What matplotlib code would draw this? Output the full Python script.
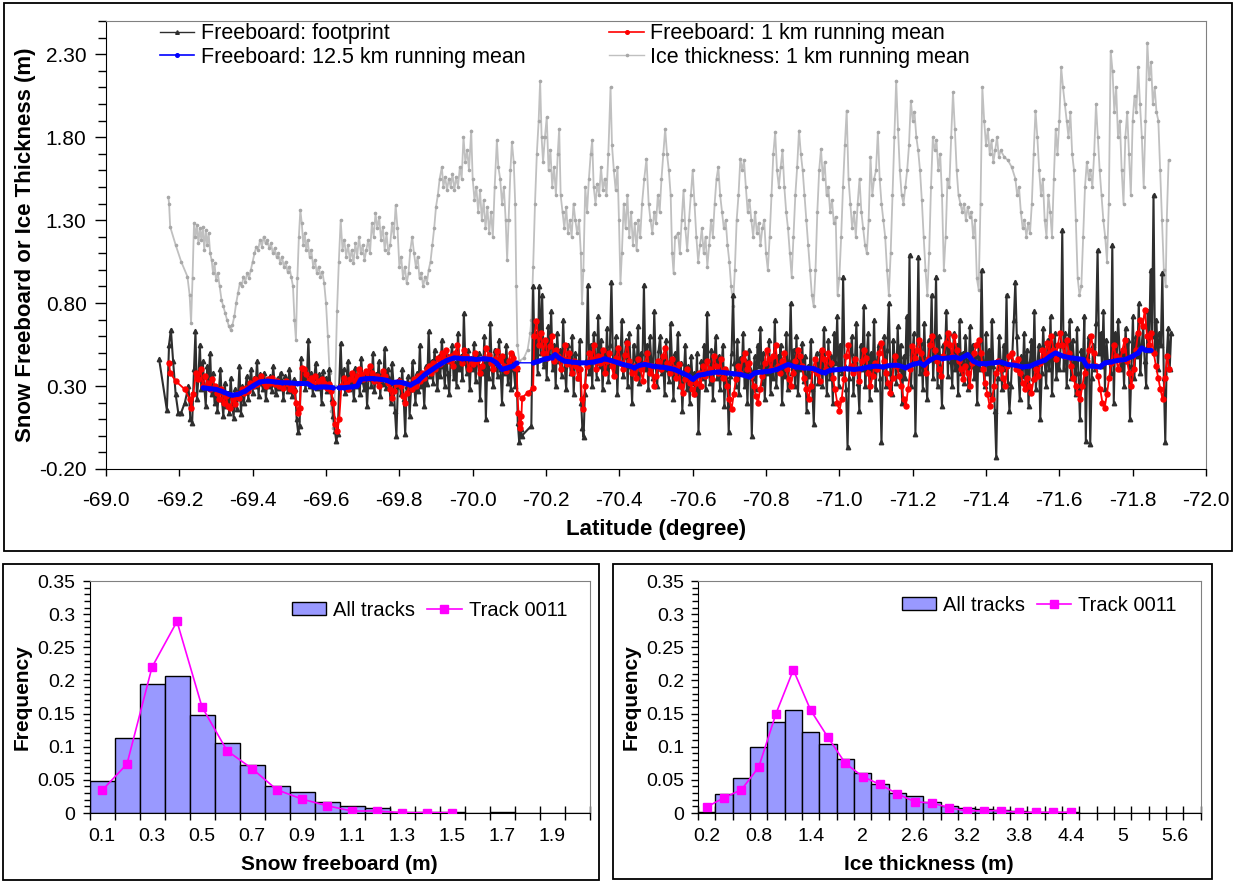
import numpy as np
import matplotlib
matplotlib.use("Agg")
import matplotlib.pyplot as plt
from matplotlib.patches import Rectangle, Patch
from matplotlib.lines import Line2D
from matplotlib.ticker import MultipleLocator, FixedLocator, FixedFormatter

plt.rcParams['font.family'] = ['Liberation Sans', 'DejaVu Sans']

# ------------------------------------------------------------------ data
# Freeboard: footprint (segments: (lat_start, lat_end) evenly spaced, or explicit lats)
fp_a_lat = [-69.145, -69.166, -69.172, -69.177, -69.183, -69.190, -69.197, -69.205,
            -69.215, -69.225, -69.230, -69.235]
fp_a_val = [0.46, 0.155, 0.55, 0.64, 0.45, 0.25, 0.14, 0.14, 0.20, 0.30, 0.10, 0.08]
fp_b1 = [0.40, 0.63, 0.22, 0.35, 0.55, 0.28, 0.45, 0.30, 0.18, 0.42, 0.33, 0.50, 0.25, 0.38, 0.20]
fp_b2 = [0.30, 0.15, 0.28, 0.40, 0.22, 0.12, 0.32, 0.18, 0.26, 0.14, 0.35, 0.20, 0.11, 0.28,
         0.16, 0.24, 0.42, 0.13, 0.30, 0.20]
fp_b3 = [0.28, 0.36, 0.22, 0.33, 0.40, 0.26, 0.35, 0.30, 0.45, 0.24, 0.37, 0.32, 0.28, 0.38,
         0.22, 0.34, 0.30, 0.36, 0.27, 0.42, 0.31, 0.25, 0.35, 0.29, 0.38, 0.33, 0.22, 0.36,
         0.30, 0.27, 0.40, 0.31, 0.24, 0.34, 0.28]
fp_b4 = [0.10, 0.02, 0.06, 0.47]
fp_b5 = [0.33, 0.40, 0.28, 0.36, 0.58, 0.30, 0.38, 0.25, 0.35, 0.44, 0.29, 0.37, 0.32, 0.20,
         0.39, 0.30, 0.35, 0.27, 0.40, 0.31, 0.22]
fp_b6 = [0.12, 0.03, -0.03, 0.01, 0.30]
fp_b7 = [0.56, 0.30, 0.40, 0.26, 0.35, 0.45, 0.28, 0.38, 0.32, 0.22, 0.41, 0.30, 0.36, 0.25,
         0.47, 0.33, 0.28, 0.39, 0.18, 0.35, 0.42, 0.30, 0.50, 0.27, 0.37, 0.33, 0.45, 0.24,
         0.38, 0.31, 0.53, 0.29, 0.40, 0.35, 0.20, 0.44, 0.32, 0.15, 0.00, 0.30]
fp_b8 = [0.34, 0.25, 0.40, 0.22, 0.01, 0.30, 0.36, 0.12, 0.28, 0.45, 0.32, 0.20, 0.38, 0.27,
         0.55, 0.30, 0.35, 0.18, 0.42, 0.31, 0.63, 0.36]
fp_b9 = [0.45, 0.32, 0.52, 0.40, 0.28, 0.48, 0.36, 0.58, 0.42, 0.30, 0.50, 0.38, 0.25, 0.46,
         0.55, 0.35, 0.44, 0.30, 0.62, 0.40, 0.48, 0.34, 0.74, 0.45, 0.38, 0.52, 0.28, 0.47,
         0.40, 0.56, 0.33, 0.44, 0.50, 0.22, 0.42, 0.38, 0.60, 0.10, 0.45, 0.35, 0.68, 0.41,
         0.30, 0.52, 0.44, 0.36, 0.58, 0.40, 0.20, 0.48, 0.38, 0.55, 0.32, 0.45, 0.28, 0.50,
         0.40, 0.30]
fp_c_lat = [-70.120, -70.123, -70.127, -70.131, -70.134, -70.160]
fp_c_val = [0.40, 0.08, -0.04, 0.04, 0.00, 0.06]
fp_d1 = [0.90, 0.45, 0.62, 0.38, 0.90, 0.50, 0.85, 0.42, 0.58, 0.35, 0.66, 0.48, 0.75, 0.40,
         0.55, 0.30, 0.62, 0.45, 0.52, 0.36, 0.70, 0.42, 0.28, 0.55, 0.48, 0.38, 0.60, 0.25,
         0.50, 0.44, 0.35, 0.58, 0.20]
fp_d2 = [0.05, -0.01, 0.25]
fp_d3 = [0.45, 0.91, 0.38, 0.55, 0.30, 0.62, 0.48, 0.35, 0.72, 0.42, 0.58, 0.28, 0.50, 0.40,
         0.65, 0.33, 0.55, 0.93, 0.45, 0.38, 0.60, 0.25, 0.52, 0.44, 0.70, 0.36, 0.48, 0.58,
         0.30, 0.62, 0.42, 0.20, 0.55, 0.47, 0.38, 0.66, 0.32, 0.50, 0.43, 0.91, 0.40, 0.55,
         0.28, 0.60, 0.45, 0.35, 0.75, 0.42, 0.30, 0.52, 0.60, 0.38, 0.46, 0.25, 0.58, 0.40,
         0.33, 0.68, 0.45, 0.22, 0.50, 0.38, 0.62, 0.30, 0.44, 0.15, 0.36, 0.55, 0.28, 0.42,
         0.20, 0.48, 0.32]
fp_d4 = [0.38, 0.25, 0.50, 0.02, 0.30, 0.45, 0.35, 0.55, 0.28, 0.74, 0.40, 0.32, 0.52, 0.22,
         0.45, 0.60, 0.35, 0.48, 0.28, 0.42, 0.55, 0.18, 0.40, 0.33, 0.02, 0.36, 0.50, 0.85,
         0.44, 0.30, 0.58, 0.25, 0.47, 0.38, 0.62, 0.30, 0.45, 0.20, 0.52, 0.40, 0.00, 0.35,
         0.48, 0.28, 0.55, 0.42, 0.65, 0.32, 0.50, 0.22, 0.44, 0.38, 0.58, 0.26, 0.46, 0.35,
         0.70, 0.30, 0.48, 0.40, 0.55, 0.20, 0.42, 0.36, 0.62, 0.28, 0.45, 0.80, 0.38, 0.52,
         0.30, 0.60, 0.25, 0.46, 0.40, 0.56, 0.33, 0.48, 0.15, 0.42, 0.36, 0.58, 0.28, 0.07,
         0.40, 0.50, 0.32, 0.45]
fp_d5 = [0.52, 0.30, 0.65, 0.40, 0.25, 0.58, 0.35, 0.48, 0.20, 0.62, 0.44, 0.72, 0.30, 0.55,
         0.38, 0.96, 0.42, 0.28, -0.07, 0.35, 0.50, 0.60, 0.25, 0.45, 0.68, 0.32, 0.15, 0.55,
         0.40, 0.78, 0.30, 0.48, 0.62, 0.22, 0.50, 0.38, 0.70, 0.28, 0.45, 0.55, 0.35, -0.04,
         0.42, 0.60, 0.30, 0.52, 0.80, 0.38, 0.25, 0.58, 0.46, 0.32, 0.66, 0.40, 0.55, 0.20,
         0.48, 0.35, 0.72, 0.42, 1.09, 0.30, 0.50, 0.62, 0.01, 0.45, 1.08, 0.38, 0.56, 0.28,
         0.68, 0.40, 0.22, 0.58, 0.46, 0.85, 0.35, 0.52, 0.96, 0.30, 0.60, 0.42, 0.18, 0.55,
         0.48, 0.75, 0.36, 0.62]
fp_d6 = [0.45, 0.30, 0.62, 0.40, 0.55, 0.25, 0.70, 0.38, 0.50, 0.32, 0.60, 0.45, 0.28, 0.66,
         0.42, 0.55, 0.35, 0.48, 0.20, 0.58, 0.40, 1.00, 0.45, 0.30, 0.62, 0.38, 0.52, 0.25,
         0.70, 0.42, 0.15, -0.13, 0.35, 0.60, 0.45, 0.28, 0.55, 0.40, 0.85, 0.32, 0.15, 0.30,
         0.50, 0.70, 0.93, 0.60, 0.40, 0.22, 0.48, 0.36, 0.62, 0.30, 0.52, 0.18, 0.45, 0.58,
         0.35, 0.75, 0.28, 0.42, 0.55, 0.10, 0.38, 0.65, 0.45, 0.30, 0.58, 0.40, 0.72, 0.25,
         0.50, 0.62, 0.35, 0.48, 0.40]
fp_d7 = [0.55, 1.24, 0.40, 0.62, 0.30, 0.50, 0.70, 0.35, 0.58, 0.45, 0.25, 0.65, 0.38, 0.10,
         0.52, 0.42, 0.72, -0.03, 0.48, 0.60, -0.05, 0.35, 0.55, 0.40, 0.68, 1.12, 0.50, 0.62,
         0.42, 0.75, 0.28, 0.58, 0.45, 0.45, 0.38, 1.15, 0.20, 0.62, 0.48, 0.70, 0.50, 0.40,
         0.52, 0.30, 0.65, 0.45, 0.58, 0.10, 0.42, 0.72, 0.35, 0.60, 0.48, 0.80, 0.38, 0.55,
         0.66, 0.45, 0.30, 0.75, 0.52, 1.00, 0.60, 1.45, 0.50, 0.70, 0.40, 0.62, 0.55, 0.98,
         0.35, -0.04, 0.48, 0.65, 0.40, 0.62]

# Freeboard: 1 km running mean
rm_a_lat = [-69.172, -69.175, -69.190, -69.215, -69.228, -69.233, -69.238]
rm_a_val = [0.44, 0.38, 0.33, 0.28, 0.22, 0.17, 0.25]
rm_b1 = [0.38, 0.34, 0.40, 0.30, 0.36, 0.32, 0.28, 0.34, 0.30]
rm_b2 = [0.26, 0.22, 0.28, 0.20, 0.24, 0.18, 0.17, 0.22, 0.19, 0.25, 0.23, 0.28, 0.26]
rm_b3 = [0.29, 0.27, 0.32, 0.30, 0.34, 0.31, 0.33, 0.36, 0.32, 0.30, 0.34, 0.32, 0.35, 0.31,
         0.33, 0.30, 0.32, 0.29, 0.33, 0.31, 0.28, 0.30, 0.27]
rm_b4 = [0.20, 0.14, 0.17, 0.41]
rm_b5 = [0.40, 0.37, 0.33, 0.35, 0.31, 0.36, 0.33, 0.30, 0.34, 0.32, 0.29, 0.31, 0.27]
rm_b6 = [0.20, 0.07, 0.03, 0.10]
rm_b7 = [0.30, 0.35, 0.32, 0.28, 0.34, 0.38, 0.33, 0.36, 0.40, 0.37, 0.34, 0.39, 0.35, 0.42,
         0.38, 0.33, 0.36, 0.30, 0.34, 0.39, 0.36, 0.32, 0.28, 0.23, 0.27, 0.31, 0.33]
rm_b8 = [0.30, 0.24, 0.20, 0.26, 0.31, 0.28, 0.34, 0.30, 0.36, 0.33, 0.38, 0.35, 0.40, 0.42, 0.38]
rm_b9 = [0.44, 0.40, 0.47, 0.43, 0.50, 0.46, 0.52, 0.45, 0.48, 0.42, 0.50, 0.55, 0.47, 0.44,
         0.52, 0.48, 0.40, 0.46, 0.43, 0.50, 0.45, 0.38, 0.42, 0.47, 0.53, 0.49, 0.44, 0.40,
         0.46, 0.51, 0.45, 0.48, 0.42, 0.39, 0.45, 0.50, 0.47, 0.41]
rm_c_lat = [-70.120, -70.122, -70.125, -70.128, -70.130, -70.133, -70.135, -70.150, -70.165]
rm_c_val = [0.41, 0.25, 0.14, 0.08, 0.05, 0.12, 0.23, 0.26, 0.29]
rm_d1 = [0.60, 0.69, 0.55, 0.62, 0.50, 0.58, 0.47, 0.54, 0.60, 0.45, 0.52, 0.48, 0.40, 0.46,
         0.55, 0.43, 0.50, 0.38, 0.45, 0.42, 0.35, 0.40]
rm_d2 = [0.22, 0.16, 0.30]
rm_d3 = [0.42, 0.50, 0.46, 0.55, 0.40, 0.48, 0.44, 0.52, 0.38, 0.45, 0.50, 0.42, 0.36, 0.47,
         0.53, 0.44, 0.40, 0.49, 0.56, 0.45, 0.38, 0.42, 0.35, 0.46, 0.40, 0.33, 0.44, 0.50,
         0.38, 0.42, 0.30, 0.36, 0.45, 0.40, 0.48, 0.53, 0.44, 0.38, 0.46, 0.41, 0.35, 0.43,
         0.30, 0.26, 0.34, 0.40, 0.32, 0.28]
rm_d4 = [0.25, 0.32, 0.38, 0.30, 0.42, 0.36, 0.45, 0.40, 0.34, 0.48, 0.42, 0.38, 0.46, 0.35,
         0.40, 0.30, 0.22, 0.16, 0.25, 0.34, 0.42, 0.38, 0.46, 0.50, 0.40, 0.44, 0.36, 0.30,
         0.24, 0.20, 0.28, 0.36, 0.44, 0.52, 0.46, 0.40, 0.48, 0.55, 0.42, 0.38, 0.45, 0.50,
         0.40, 0.34, 0.30, 0.38, 0.45, 0.52, 0.48, 0.42, 0.35, 0.28, 0.22, 0.30, 0.40, 0.46,
         0.38, 0.33]
rm_d5 = [0.52, 0.46, 0.40, 0.50, 0.44, 0.35, 0.28, 0.20, 0.15, 0.22, 0.34, 0.48, 0.55, 0.42,
         0.38, 0.46, 0.40, 0.33, 0.45, 0.52, 0.47, 0.38, 0.30, 0.36, 0.44, 0.40, 0.50, 0.56,
         0.45, 0.38, 0.32, 0.26, 0.35, 0.48, 0.42, 0.36, 0.30, 0.22, 0.18, 0.28, 0.40, 0.54,
         0.47, 0.52, 0.58, 0.50, 0.44, 0.38, 0.46, 0.55, 0.60, 0.52, 0.45, 0.40, 0.36, 0.48,
         0.56, 0.62]
rm_d6 = [0.55, 0.48, 0.60, 0.52, 0.45, 0.40, 0.34, 0.42, 0.38, 0.30, 0.44, 0.50, 0.55, 0.58,
         0.50, 0.40, 0.32, 0.25, 0.18, 0.22, 0.30, 0.38, 0.45, 0.40, 0.35, 0.30, 0.42, 0.48,
         0.50, 0.44, 0.40, 0.46, 0.38, 0.32, 0.28, 0.35, 0.30, 0.26, 0.34, 0.40, 0.36, 0.44,
         0.52, 0.48, 0.56, 0.50, 0.60, 0.52, 0.46, 0.55]
rm_d7 = [0.62, 0.55, 0.48, 0.58, 0.50, 0.42, 0.35, 0.30, 0.26, 0.22, 0.30, 0.38, 0.45, 0.52,
         0.60, 0.50, 0.42, 0.36, 0.28, 0.20, 0.17, 0.25, 0.35, 0.44, 0.55, 0.48, 0.40, 0.46,
         0.52, 0.58, 0.45, 0.38, 0.30, 0.40, 0.52, 0.62, 0.70, 0.66, 0.76, 0.60, 0.55, 0.62,
         0.50, 0.42, 0.35, 0.28, 0.22, 0.35, 0.48, 0.40]

# Freeboard: 12.5 km running mean (three sections separated by data gaps)
bl1_lat = [-69.265, -69.28, -69.30, -69.32, -69.335, -69.345, -69.36, -69.38, -69.40, -69.42,
           -69.44, -69.46, -69.48, -69.50, -69.52, -69.55, -69.56, -69.57, -69.585, -69.60, -69.62]
bl1_val = [0.29, 0.285, 0.28, 0.265, 0.25, 0.245, 0.25, 0.27, 0.30, 0.325,
           0.33, 0.325, 0.32, 0.32, 0.315, 0.315, 0.30, 0.29, 0.295, 0.295, 0.29]
bl2_lat = [-69.635, -69.65, -69.67, -69.685, -69.695, -69.71, -69.73, -69.75, -69.765, -69.78,
           -69.795, -69.81, -69.83, -69.85, -69.87, -69.89, -69.91, -69.93, -69.95, -69.97,
           -69.99, -70.01, -70.03, -70.05, -70.065, -70.08, -70.095, -70.11, -70.12]
bl2_val = [0.29, 0.29, 0.295, 0.30, 0.34, 0.345, 0.345, 0.34, 0.335, 0.32,
           0.325, 0.32, 0.305, 0.33, 0.37, 0.40, 0.43, 0.455, 0.47, 0.465,
           0.465, 0.46, 0.465, 0.46, 0.44, 0.40, 0.41, 0.42, 0.44]
bl3_lat = [-70.165, -70.18, -70.20, -70.215, -70.225, -70.235, -70.25, -70.27, -70.29, -70.31,
           -70.33, -70.35, -70.36, -70.375, -70.39, -70.41, -70.43, -70.44, -70.455, -70.47,
           -70.49, -70.51, -70.53, -70.55, -70.57, -70.59, -70.60, -70.615, -70.63, -70.65,
           -70.67, -70.69, -70.71, -70.73, -70.755, -70.77, -70.79, -70.81, -70.83, -70.86,
           -70.88, -70.90, -70.93, -70.95, -70.96, -70.975, -71.00, -71.02, -71.04, -71.06,
           -71.08, -71.10, -71.12, -71.14, -71.16, -71.18, -71.20, -71.22, -71.23, -71.25,
           -71.265, -71.28, -71.30, -71.315, -71.33, -71.35, -71.365, -71.38, -71.40, -71.42,
           -71.44, -71.46, -71.48, -71.50, -71.52, -71.54, -71.56, -71.575, -71.59, -71.61,
           -71.63, -71.65, -71.665, -71.675, -71.69, -71.71, -71.725, -71.74, -71.76, -71.78,
           -71.80, -71.815, -71.825, -71.835, -71.85]
bl3_val = [0.44, 0.45, 0.465, 0.47, 0.49, 0.47, 0.45, 0.445, 0.44, 0.44,
           0.445, 0.455, 0.465, 0.455, 0.445, 0.43, 0.42, 0.41, 0.425, 0.43,
           0.42, 0.415, 0.41, 0.40, 0.38, 0.36, 0.34, 0.365, 0.37, 0.38,
           0.385, 0.38, 0.375, 0.37, 0.355, 0.38, 0.385, 0.39, 0.40, 0.43,
           0.415, 0.41, 0.405, 0.385, 0.38, 0.395, 0.40, 0.405, 0.40, 0.405,
           0.415, 0.42, 0.415, 0.425, 0.425, 0.41, 0.43, 0.44, 0.425, 0.46,
           0.475, 0.465, 0.47, 0.475, 0.465, 0.49, 0.45, 0.435, 0.435, 0.44,
           0.445, 0.43, 0.425, 0.415, 0.42, 0.44, 0.455, 0.48, 0.50, 0.48,
           0.47, 0.465, 0.46, 0.42, 0.42, 0.415, 0.44, 0.445, 0.455, 0.46,
           0.48, 0.50, 0.53, 0.515, 0.515]

# Ice thickness: 1 km running mean
ice_lat_1 = [-69.170, -69.172, -69.175, -69.190, -69.205, -69.222, -69.228, -69.232, -69.236, -69.240,
             -69.244, -69.248, -69.252, -69.256, -69.260, -69.264, -69.268, -69.272, -69.276, -69.280,
             -69.284, -69.288, -69.292, -69.296, -69.300, -69.305, -69.310, -69.315, -69.320, -69.325,
             -69.330, -69.335, -69.340, -69.345, -69.350, -69.355, -69.360, -69.365, -69.370, -69.375,
             -69.380, -69.385, -69.390, -69.395, -69.400, -69.405, -69.410, -69.415, -69.420, -69.425,
             -69.430, -69.435, -69.440, -69.445, -69.450, -69.455, -69.460, -69.465, -69.470, -69.475,
             -69.480, -69.485, -69.490, -69.495, -69.500, -69.505, -69.510, -69.514, -69.518, -69.522,
             -69.526, -69.530, -69.534, -69.538, -69.542, -69.546, -69.550, -69.555, -69.560, -69.565,
             -69.570, -69.575, -69.580, -69.585, -69.590, -69.595, -69.600, -69.605, -69.610, -69.615,
             -69.620, -69.625, -69.630, -69.635, -69.640, -69.645, -69.650, -69.655, -69.660, -69.665,
             -69.670, -69.675, -69.680, -69.685, -69.690, -69.695, -69.700, -69.705, -69.710, -69.715,
             -69.720, -69.725, -69.730, -69.735, -69.740, -69.745, -69.750, -69.755, -69.760, -69.765,
             -69.770, -69.775, -69.780, -69.785, -69.790, -69.795, -69.800, -69.805, -69.810, -69.815,
             -69.820, -69.825, -69.830, -69.835, -69.840, -69.845, -69.850, -69.855, -69.860, -69.865,
             -69.870, -69.875]
ice_val_1 = [1.44, 1.40, 1.26, 1.15, 1.05, 0.96, 0.85, 0.68, 0.95, 1.28,
             1.20, 1.27, 1.16, 1.25, 1.18, 1.26, 1.12, 1.24, 1.15, 1.22,
             1.10, 1.06, 0.98, 1.04, 0.94, 0.98, 0.90, 0.82, 0.78, 0.74,
             0.70, 0.66, 0.64, 0.67, 0.72, 0.80, 0.86, 0.92, 0.90, 0.96,
             0.93, 0.98, 0.95, 1.00, 1.05, 1.10, 1.14, 1.12, 1.18, 1.14,
             1.20, 1.16, 1.18, 1.13, 1.16, 1.10, 1.13, 1.08, 1.10, 1.04,
             1.08, 1.02, 1.05, 0.99, 1.02, 0.96, 0.90, 0.70, 0.58, 0.95,
             1.20, 1.36, 1.28, 1.15, 1.22, 1.12, 1.18, 1.08, 1.12, 1.02,
             1.06, 0.98, 1.02, 0.96, 0.99, 0.92, 0.80, 0.60, 0.38, 0.15,
             0.05, 0.30, 0.75, 1.05, 1.30, 1.12, 1.18, 1.08, 1.15, 1.06,
             1.12, 1.04, 1.16, 1.08, 1.20, 1.10, 1.15, 1.06, 1.12, 1.18,
             1.10, 1.28, 1.20, 1.34, 1.25, 1.32, 1.18, 1.26, 1.12, 1.22,
             1.10, 1.15, 1.28, 1.20, 1.39, 1.25, 1.02, 1.08, 0.95, 1.02,
             0.92, 0.98, 1.12, 1.20, 1.10, 1.02, 1.08, 0.95, 0.98, 0.90,
             0.96, 0.92]
ice_lat_2 = [-69.880, -69.885, -69.890, -69.895, -69.900, -69.905, -69.910, -69.916, -69.920, -69.925,
             -69.930, -69.935, -69.940, -69.945, -69.950, -69.955, -69.960, -69.965, -69.970, -69.975,
             -69.980, -69.985, -69.990, -69.996, -70.000, -70.005, -70.010, -70.015, -70.020, -70.025,
             -70.030, -70.035, -70.040, -70.045, -70.050, -70.055, -70.060, -70.066, -70.070, -70.075,
             -70.080, -70.085, -70.090, -70.094, -70.098, -70.103, -70.107, -70.112, -70.116, -70.119,
             -70.122, -70.127, -70.140, -70.150, -70.157, -70.160, -70.165, -70.170, -70.175, -70.180,
             -70.184, -70.188, -70.192, -70.197, -70.202, -70.207, -70.212, -70.217, -70.222, -70.227,
             -70.232, -70.236, -70.240, -70.245, -70.250, -70.255, -70.260, -70.265, -70.270, -70.275,
             -70.280, -70.285, -70.290, -70.295, -70.298, -70.302, -70.307, -70.312, -70.317, -70.322,
             -70.326, -70.330, -70.335, -70.340, -70.345, -70.350, -70.355, -70.360, -70.365, -70.370,
             -70.376, -70.380, -70.385, -70.390, -70.395, -70.399, -70.403, -70.407, -70.412, -70.417,
             -70.422, -70.427, -70.432, -70.437, -70.442, -70.447, -70.452, -70.457, -70.462, -70.468,
             -70.474, -70.480, -70.485, -70.490, -70.495, -70.500, -70.505, -70.510, -70.515, -70.520,
             -70.525, -70.530, -70.535, -70.540, -70.544, -70.548, -70.552]
ice_val_2 = [1.00, 1.05, 1.15, 1.25, 1.38, 1.45, 1.55, 1.62, 1.50, 1.56,
             1.48, 1.55, 1.50, 1.58, 1.48, 1.56, 1.50, 1.62, 1.55, 1.80,
             1.65, 1.72, 1.60, 1.84, 1.55, 1.42, 1.50, 1.35, 1.48, 1.30,
             1.42, 1.25, 1.38, 1.22, 1.35, 1.20, 1.50, 1.78, 1.62, 1.55,
             1.40, 1.50, 1.30, 1.06, 1.30, 1.60, 1.77, 1.65, 1.40, 0.90,
             0.55, 0.45, 0.47, 0.52, 0.62, 0.70, 1.02, 1.40, 1.70, 1.90,
             2.14, 1.80, 1.65, 1.80, 1.92, 1.60, 1.72, 1.50, 1.62, 1.45,
             1.70, 1.85, 1.45, 1.35, 1.25, 1.38, 1.22, 1.30, 1.20, 1.40,
             1.30, 1.22, 1.30, 1.10, 0.80, 1.00, 1.50, 1.35, 1.55, 1.70,
             1.78, 1.50, 1.40, 1.52, 1.45, 1.62, 1.48, 1.55, 1.45, 1.70,
             2.10, 1.75, 1.60, 1.48, 1.62, 1.30, 0.92, 1.10, 1.40, 1.25,
             1.45, 1.20, 1.35, 1.15, 1.28, 1.12, 1.30, 1.20, 1.40, 1.55,
             1.67, 1.40, 1.30, 1.22, 1.35, 1.28, 1.45, 1.35, 1.55, 1.70,
             1.85, 1.70, 1.60, 1.45, 1.10, 0.98, 1.20]
ice_lat_3 = [-70.560, -70.565, -70.570, -70.575, -70.580, -70.585, -70.590, -70.595, -70.600, -70.605,
             -70.610, -70.615, -70.620, -70.625, -70.630, -70.635, -70.640, -70.645, -70.650, -70.655,
             -70.660, -70.665, -70.670, -70.675, -70.680, -70.685, -70.690, -70.695, -70.700, -70.705,
             -70.710, -70.715, -70.720, -70.725, -70.730, -70.735, -70.740, -70.745, -70.750, -70.755,
             -70.760, -70.765, -70.770, -70.775, -70.780, -70.785, -70.790, -70.795, -70.800, -70.805,
             -70.810, -70.815, -70.820, -70.825, -70.830, -70.835, -70.840, -70.845, -70.850, -70.855,
             -70.860, -70.865, -70.870, -70.875, -70.880, -70.885, -70.890, -70.895, -70.900, -70.905,
             -70.910, -70.915, -70.920, -70.925, -70.930, -70.935, -70.940, -70.945, -70.950, -70.955,
             -70.960, -70.965, -70.970, -70.975, -70.980, -70.985, -70.990, -70.995, -71.000, -71.005,
             -71.010, -71.015, -71.020, -71.025, -71.030, -71.035, -71.040, -71.045, -71.050, -71.055,
             -71.060, -71.065, -71.070, -71.075, -71.080, -71.085, -71.090, -71.095, -71.100, -71.105,
             -71.110, -71.115, -71.120, -71.125, -71.130, -71.135, -71.140, -71.145, -71.150, -71.155,
             -71.160, -71.165, -71.170, -71.175, -71.180, -71.185, -71.190, -71.195, -71.200, -71.205,
             -71.210, -71.215, -71.220, -71.225, -71.230, -71.235, -71.240, -71.245, -71.250, -71.255,
             -71.260, -71.265, -71.270, -71.275, -71.280, -71.285, -71.290, -71.295, -71.300, -71.305]
ice_val_3 = [1.22, 1.10, 1.30, 1.48, 1.25, 1.12, 1.30, 1.45, 1.60, 1.40,
             1.20, 1.05, 1.15, 1.25, 1.10, 1.20, 1.02, 1.15, 1.30, 1.20,
             1.40, 1.55, 1.62, 1.45, 1.35, 1.25, 1.30, 1.15, 1.05, 0.90,
             0.78, 1.00, 1.30, 1.45, 1.67, 1.60, 1.66, 1.50, 1.35, 1.42,
             1.30, 1.20, 1.35, 1.22, 1.28, 1.15, 1.25, 1.30, 1.10, 1.00,
             1.20, 1.45, 1.70, 1.83, 1.60, 1.50, 1.62, 1.72, 1.50, 1.35,
             1.25, 1.10, 0.96, 1.20, 1.45, 1.62, 1.84, 1.70, 1.60, 1.45,
             1.30, 1.15, 1.00, 0.85, 0.78, 1.00, 1.35, 1.60, 1.73, 1.55,
             1.65, 1.45, 1.50, 1.35, 1.42, 1.28, 1.32, 0.85, 0.95, 1.20,
             1.50, 1.75, 1.96, 1.55, 1.40, 1.25, 1.35, 1.20, 1.40, 1.55,
             1.35, 1.25, 1.15, 1.10, 1.30, 1.68, 1.45, 1.55, 1.60, 1.83,
             1.55, 1.40, 1.30, 1.20, 1.00, 0.85, 1.10, 1.45, 1.80, 2.14,
             1.85, 1.60, 1.45, 1.40, 1.50, 1.60, 1.75, 2.02, 1.90, 1.95,
             1.80, 1.72, 1.60, 1.42, 1.20, 1.00, 0.85, 1.10, 1.50, 1.80,
             1.72, 1.78, 1.60, 1.70, 1.45, 1.00, 1.20, 1.55, 1.50, 1.80]
ice_lat_4 = [-71.310, -71.315, -71.320, -71.325, -71.330, -71.335, -71.340, -71.345, -71.350, -71.355,
             -71.360, -71.365, -71.370, -71.375, -71.380, -71.385, -71.390, -71.395, -71.400, -71.405,
             -71.410, -71.415, -71.420, -71.425, -71.430, -71.435, -71.440, -71.450, -71.460, -71.470,
             -71.480, -71.485, -71.490, -71.495, -71.500, -71.505, -71.510, -71.515, -71.520, -71.525,
             -71.530, -71.535, -71.540, -71.545, -71.550, -71.555, -71.560, -71.565, -71.570, -71.575,
             -71.580, -71.585, -71.590, -71.595, -71.600, -71.605, -71.610, -71.615, -71.620, -71.625,
             -71.630, -71.635, -71.640, -71.645, -71.650, -71.655, -71.660, -71.665, -71.670, -71.675,
             -71.680, -71.685, -71.690, -71.695, -71.700, -71.705, -71.710, -71.715, -71.720, -71.725,
             -71.730, -71.735, -71.740, -71.745, -71.750, -71.755, -71.760, -71.765, -71.770, -71.775,
             -71.780, -71.785, -71.790, -71.795, -71.800, -71.805, -71.810, -71.815, -71.820, -71.825,
             -71.830, -71.835, -71.840, -71.845, -71.850, -71.855, -71.860, -71.865, -71.870, -71.875,
             -71.880, -71.885, -71.890, -71.893, -71.898]
ice_val_4 = [2.07, 1.85, 1.60, 1.45, 1.40, 1.35, 1.40, 1.30, 1.38, 1.32,
             1.35, 1.20, 1.30, 0.95, 0.88, 1.40, 2.10, 1.90, 1.75, 1.85,
             1.70, 1.78, 1.65, 1.72, 1.80, 1.68, 1.72, 1.68, 1.66, 1.62,
             1.55, 1.45, 1.50, 1.35, 1.25, 1.30, 1.20, 1.28, 1.22, 1.40,
             1.70, 1.96, 1.80, 1.60, 1.45, 1.55, 1.30, 1.20, 1.45, 1.35,
             1.20, 1.55, 1.85, 1.70, 1.90, 2.22, 2.10, 2.00, 1.90, 1.80,
             1.95, 1.70, 1.60, 1.30, 0.95, 0.85, 0.90, 1.20, 1.50, 1.65,
             1.55, 1.60, 1.50, 1.70, 2.00, 1.80, 1.60, 1.45, 1.30, 1.20,
             1.05, 1.40, 2.32, 2.20, 1.95, 2.10, 1.80, 1.90, 1.60, 1.40,
             1.80, 1.95, 1.70, 1.45, 1.90, 2.05, 1.95, 2.22, 2.00, 1.80,
             1.50, 1.90, 2.37, 2.15, 2.25, 2.00, 2.10, 1.95, 1.90, 1.60,
             1.30, 1.00, 0.90, 1.30, 1.66]

# Histograms
sf_bins = [0.1, 0.2, 0.3, 0.4, 0.5, 0.6, 0.7, 0.8, 0.9, 1.0,
           1.1, 1.2, 1.3, 1.4, 1.5, 1.6, 1.7, 1.8, 1.9, 2.0]
sf_all = [0.048, 0.113, 0.195, 0.207, 0.148, 0.105, 0.072, 0.040, 0.032, 0.016,
          0.010, 0.008, 0.002, 0.002, 0.002, 0.0005, 0.002, 0.0, 0.0, 0.0]
sf_track = [0.034, 0.074, 0.220, 0.289, 0.160, 0.094, 0.067, 0.035, 0.021, 0.011,
            0.003, 0.003, 0.0005, 0.0005, 0.0005]
sf_ticklabels = ['0.1', '0.3', '0.5', '0.7', '0.9', '1.1', '1.3', '1.5', '1.7', '1.9']

it_bins = [0.2, 0.4, 0.6, 0.8, 1.0, 1.2, 1.4, 1.6, 1.8, 2.0, 2.2, 2.4, 2.6, 2.8, 3.0,
           3.2, 3.4, 3.6, 3.8, 4.0, 4.2, 4.4, 4.6, 4.8, 5.0, 5.2, 5.4, 5.6, 5.8]
it_all = [0.002, 0.028, 0.053, 0.099, 0.137, 0.155, 0.122, 0.104, 0.081, 0.060,
          0.044, 0.030, 0.026, 0.016, 0.010, 0.008, 0.006, 0.004, 0.003, 0.002,
          0.0015, 0.001, 0, 0, 0, 0, 0, 0, 0]
it_track = [0.009, 0.023, 0.035, 0.069, 0.150, 0.216, 0.155, 0.114, 0.075, 0.055,
            0.043, 0.029, 0.017, 0.015, 0.008, 0.003, 0.0035, 0.0035, 0.001, 0.001,
            0.001, 0.001]
it_ticklabels = ['0.2', '0.8', '1.4', '2', '2.6', '3.2', '3.8', '4.4', '5', '5.6']

freq_ticklabels = ['0', '0.05', '0.1', '0.15', '0.2', '0.25', '0.3', '0.35']


# ------------------------------------------------------------------ helpers
def build(segments):
    lats, vals = [], []
    for where, v in segments:
        if isinstance(where, tuple):
            lats.extend(np.linspace(where[0], where[1], len(v)))
        else:
            lats.extend(where)
        vals.extend(v)
    return np.array(lats), np.array(vals)


fp_lat, fp_val = build([
    (fp_a_lat, fp_a_val),
    ((-69.240, -69.296), fp_b1), ((-69.300, -69.376), fp_b2), ((-69.380, -69.516), fp_b3),
    ((-69.520, -69.532), fp_b4), ((-69.536, -69.616), fp_b5), ((-69.620, -69.636), fp_b6),
    ((-69.640, -69.796), fp_b7), ((-69.800, -69.884), fp_b8), ((-69.888, -70.116), fp_b9),
    (fp_c_lat, fp_c_val),
    ((-70.165, -70.296), fp_d1), ((-70.299, -70.306), fp_d2), ((-70.310, -70.600), fp_d3),
    ((-70.604, -70.946), fp_d4), ((-70.950, -71.300), fp_d5), ((-71.304, -71.600), fp_d6),
    ((-71.604, -71.905), fp_d7),
])
rm_lat, rm_val = build([
    (rm_a_lat, rm_a_val),
    ((-69.245, -69.296), rm_b1), ((-69.302, -69.376), rm_b2), ((-69.382, -69.514), rm_b3),
    ((-69.518, -69.534), rm_b4), ((-69.540, -69.614), rm_b5), ((-69.620, -69.636), rm_b6),
    ((-69.642, -69.798), rm_b7), ((-69.804, -69.886), rm_b8), ((-69.892, -70.116), rm_b9),
    (rm_c_lat, rm_c_val),
    ((-70.168, -70.294), rm_d1), ((-70.298, -70.306), rm_d2), ((-70.312, -70.598), rm_d3),
    ((-70.604, -70.946), rm_d4), ((-70.952, -71.296), rm_d5), ((-71.302, -71.596), rm_d6),
    ((-71.602, -71.900), rm_d7),
])
ice_lat, ice_val = build([(ice_lat_1, ice_val_1), (ice_lat_2, ice_val_2),
                          (ice_lat_3, ice_val_3), (ice_lat_4, ice_val_4)])
bl_lat, bl_val = build([(bl1_lat, bl1_val), (bl2_lat, bl2_val), (bl3_lat, bl3_val)])

# ------------------------------------------------------------------ figure
W, H = 1234, 882
fig = plt.figure(figsize=(W / 100, H / 100), dpi=100)


def fx(px):
    return px / W


def fy(py):
    return 1 - py / H


# outer frames
for (x0, y0, x1, y1) in [(4, 3, 1232, 551), (3, 564, 599, 880), (613, 564, 1212, 879)]:
    fig.add_artist(Rectangle((fx(x0), fy(y1)), fx(x1 - x0), (y1 - y0) / H,
                             transform=fig.transFigure, fill=False, ec='black', lw=1.3))

BLACK = '#2E2E2E'
GRAY = '#C0C0C0'

ax = fig.add_axes([fx(106), fy(469), fx(1100), 448 / H])
ax.plot(ice_lat, ice_val, color=GRAY, lw=1.3, marker='o', ms=1.6, mfc='#A8A8A8', mec='#A8A8A8',
        zorder=1)
ax.plot(fp_lat, fp_val, color=BLACK, lw=1.5, marker='^', ms=3.2, zorder=2)
ax.plot(rm_lat, rm_val, color='#FF0000', lw=1.3, marker='o', ms=3.6, zorder=3)
ax.plot(bl_lat, bl_val, color='#0000FF', lw=1.0, marker='o', ms=2.0, zorder=4)
for la, va in [(bl1_lat, bl1_val), (bl2_lat, bl2_val), (bl3_lat, bl3_val)]:
    ax.plot(la, va, color='#0000FF', lw=3.6, solid_capstyle='round', zorder=4)

ax.set_xlim(-69.0, -72.0)
ax.set_ylim(-0.2, 2.5)
ax.xaxis.set_major_locator(FixedLocator(np.round(np.arange(-69.0, -72.01, -0.2), 1)))
ax.xaxis.set_major_formatter(FixedFormatter(['%.1f' % v for v in np.arange(-69.0, -72.01, -0.2)]))
ax.yaxis.set_major_locator(FixedLocator([-0.2, 0.3, 0.8, 1.3, 1.8, 2.3]))
ax.yaxis.set_major_formatter(FixedFormatter(['-0.20', '0.30', '0.80', '1.30', '1.80', '2.30']))
ax.yaxis.set_minor_locator(MultipleLocator(0.1))
ax.tick_params(axis='y', which='major', direction='out', length=8, width=1, labelsize=15, pad=6)
ax.tick_params(axis='y', which='minor', direction='out', length=6, width=1)
ax.tick_params(axis='x', which='major', direction='out', length=5, width=1, labelsize=15, pad=11)
for s in ['top', 'right']:
    ax.spines[s].set_color('#808080')
for s in ['left', 'bottom']:
    ax.spines[s].set_color('black')
ax.set_xlabel('Latitude (degree)', fontsize=16, fontweight='bold', labelpad=6)
ax.set_ylabel('Snow Freeboard or Ice Thickness (m)', fontsize=16, fontweight='bold', labelpad=2)

h_fp = Line2D([], [], color=BLACK, lw=1.0, marker='^', ms=2.6)
h_rm = Line2D([], [], color='#FF0000', lw=1.2, marker='o', ms=2.6)
h_bl = Line2D([], [], color='#0000FF', lw=1.2, marker='o', ms=2.6)
h_ice = Line2D([], [], color=GRAY, lw=1.0, marker='o', ms=1.6, mfc='#A8A8A8', mec='#A8A8A8')
ax.legend([h_fp, h_bl, h_rm, h_ice],
          ['Freeboard: footprint', 'Freeboard: 12.5 km running mean',
           'Freeboard: 1 km running mean', 'Ice thickness: 1 km running mean'],
          ncol=2, loc='upper left', bbox_to_anchor=(0.049, 0.995), frameon=False,
          fontsize=15.5, handlelength=1.6, handletextpad=0.3, columnspacing=3.9,
          labelspacing=0.12, borderpad=0, borderaxespad=0)


def histogram(rect, bins, allv, track, ticklabels, step, xlabel, legend_anchor, xlabel_x):
    a = fig.add_axes(rect)
    n = len(bins)
    idx = np.arange(n)
    a.bar(idx, allv, width=1.0, color='#9999FF', edgecolor='black', lw=1.0, zorder=2)
    a.plot(idx[:len(track)], track, color='#FF00FF', lw=1.2, marker='s', ms=5.5, zorder=3)
    a.set_xlim(-0.5, n - 0.5)
    a.set_ylim(0, 0.35)
    a.xaxis.set_major_locator(FixedLocator(np.arange(n + 1) - 0.5))
    a.xaxis.set_major_formatter(FixedFormatter([''] * (n + 1)))
    a.xaxis.set_minor_locator(FixedLocator(idx[::step]))
    a.xaxis.set_minor_formatter(FixedFormatter(ticklabels))
    a.tick_params(axis='x', which='major', direction='inout', length=10, width=1)
    a.tick_params(axis='x', which='minor', length=0, labelsize=14, pad=11)
    a.yaxis.set_major_locator(FixedLocator([0, 0.05, 0.1, 0.15, 0.2, 0.25, 0.3, 0.35]))
    a.yaxis.set_major_formatter(FixedFormatter(freq_ticklabels))
    a.yaxis.set_minor_locator(MultipleLocator(0.01))
    a.tick_params(axis='y', which='major', direction='out', length=5, width=1, labelsize=14, pad=5)
    a.tick_params(axis='y', which='minor', direction='out', length=4, width=1)
    for s in ['top', 'right']:
        a.spines[s].set_color('#808080')
    a.set_xlabel(xlabel, fontsize=15, fontweight='bold', labelpad=6)
    a.xaxis.set_label_coords(xlabel_x, -0.18)
    a.set_ylabel('Frequency', fontsize=15, fontweight='bold', labelpad=4)
    hb = Patch(facecolor='#9999FF', edgecolor='black', lw=1.0)
    ht = Line2D([], [], color='#FF00FF', lw=1.2, marker='s', ms=5.5)
    a.legend([hb, ht], ['All tracks', 'Track 0011'], ncol=2, loc='center left',
             bbox_to_anchor=legend_anchor, frameon=False, fontsize=14.5,
             handlelength=1.7, handleheight=0.6, handletextpad=0.35, columnspacing=0.6,
             borderpad=0, borderaxespad=0)
    return a


histogram([fx(89.5), fy(813), fx(500), 232 / H], sf_bins, sf_all, sf_track, sf_ticklabels, 2,
          'Snow freeboard (m)', (0.405, 0.875), 0.5)
histogram([fx(698), fy(813), fx(502.7), 232 / H], it_bins, it_all, it_track, it_ticklabels, 3,
          'Ice thickness (m)', (0.405, 0.895), 0.46)

fig.savefig('out.png', dpi=100)
